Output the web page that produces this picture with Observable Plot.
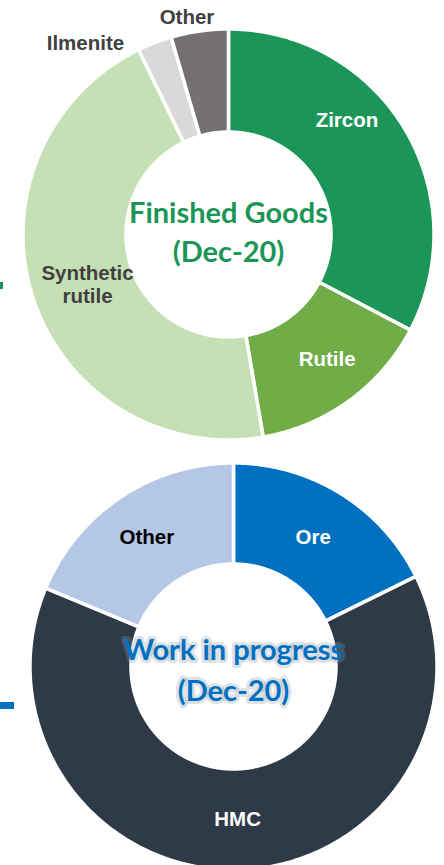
<!DOCTYPE html>
<html><head><meta charset="utf-8">
<script src="https://cdn.jsdelivr.net/npm/d3@7"></script>
<script src="https://cdn.jsdelivr.net/npm/@observablehq/plot@0.6"></script>
<style>
html,body{margin:0;padding:0;background:#fff;overflow:hidden;}
#wrap{position:relative;width:444px;height:865px;overflow:hidden;}
#top{position:absolute;left:0;top:0;}
#bottom{position:absolute;left:0;top:440px;}
.deco{position:absolute;left:0;}
</style></head><body>
<div id="wrap">
<div id="top"></div>
<div id="bottom"></div>
<div class="deco" style="top:282px;width:3px;height:7px;background:#1b9657"></div>
<div class="deco" style="top:702px;width:14px;height:7px;background:#0070c0"></div>
</div>
<script>
// ---- data ----
const fgCategories = ["Zircon", "Rutile", "Synthetic rutile", "Ilmenite", "Other"];
const fgLabels = ["Zircon", "Rutile", "Synthetic\nrutile", "Ilmenite", "Other"];
const fgValues = [32.7, 14.6, 45.5, 2.7, 4.5];
const fgColors = ["#1b9657", "#70ad47", "#c5e0b4", "#d9d9d9", "#767171"];
const fgTitle = "Finished Goods\n(Dec-20)";

const wipCategories = ["Ore", "HMC", "Other"];
const wipLabels = ["Ore", "HMC", "Other"];
const wipValues = [17.7, 63.6, 18.7];
const wipColors = ["#0070c0", "#2e3a47", "#b4c7e7"];
const wipTitle = "Work in progress\n(Dec-20)";

// ---- layout / style ----
const fgLayout = {
  el: "#top", width: 444, height: 440, cx: 228, cy: 234, R: 205.5, r: 102.5,
  labelColors: ["#ffffff", "#ffffff", "#404040", "#404040", "#404040"],
  labelR: [153, 153, 153, 230, 230],
  nudge: [[-12.5, -35.5], [8.7, 0.6], [4.7, 3], [-60.4, 23], [-9.1, 10.1]],
  titleColor: "#1b9657", titleShift: [0, -4.5], titleLineHeight: 1.34, titleSize: 29, titleGlow: false
};
const wipLayout = {
  el: "#bottom", width: 444, height: 430, cx: 233, cy: 226, R: 203.5, r: 102.5,
  labelColors: ["#ffffff", "#ffffff", "#000000"],
  labelR: [153, 153, 153],
  nudge: [[-1, 0.4], [-0.7, -0.5], [-1.8, -2.2]],
  titleColor: "#0070c0", titleShift: [0, 1], titleLineHeight: 1.41, titleSize: 29, titleGlow: true
};

function donut(categories, labels, values, colors, L) {
  const total = d3.sum(values);
  let acc = 0;
  const slices = values.map((v, i) => {
    const a0 = acc / total * 2 * Math.PI; acc += v;
    const a1 = acc / total * 2 * Math.PI;
    return {i, a0, a1, name: categories[i], label: labels[i], color: colors[i]};
  });
  const pts = [];
  for (const s of slices) {
    const n = Math.max(2, Math.ceil((s.a1 - s.a0) / (Math.PI / 360)));
    const ring = [];
    for (let k = 0; k <= n; k++) { const a = s.a0 + (s.a1 - s.a0) * k / n; ring.push([L.R * Math.sin(a), L.R * Math.cos(a)]); }
    for (let k = n; k >= 0; k--) { const a = s.a0 + (s.a1 - s.a0) * k / n; ring.push([L.r * Math.sin(a), L.r * Math.cos(a)]); }
    ring.push(ring[0]);
    for (const [x, y] of ring) pts.push({x, y, name: s.name, color: s.color});
  }
  const lab = slices.map(s => {
    const m = (s.a0 + s.a1) / 2, lr = L.labelR[s.i], [nx, ny] = L.nudge[s.i];
    return {x: lr * Math.sin(m) + nx, y: lr * Math.cos(m) - ny, text: s.label, fill: L.labelColors[s.i]};
  });
  const titleMarks = [];
  const titleOpts = {
    x: () => L.titleShift[0], y: () => -L.titleShift[1], text: d => d,
    fill: L.titleColor, fontSize: L.titleSize, fontWeight: "bold", fontFamily: "Lato, 'Open Sans', sans-serif",
    lineHeight: L.titleLineHeight
  };
  if (L.titleGlow) titleMarks.push(Plot.text([L.title], {...titleOpts, fill: "none", stroke: "#8e99a6", strokeWidth: 6, strokeOpacity: 0.3}));
  titleMarks.push(Plot.text([L.title], titleOpts));
  const chart = Plot.plot({
    width: L.width, height: L.height, margin: 0,
    x: {domain: [-L.cx, L.width - L.cx], axis: null},
    y: {domain: [L.cy - L.height, L.cy], axis: null},
    color: {type: "identity"},
    style: {background: "transparent", overflow: "visible"},
    marks: [
      Plot.line(pts, {x: "x", y: "y", z: "name", fill: "color", stroke: "#ffffff", strokeWidth: 3.5, curve: "linear"}),
      Plot.text(lab, {x: "x", y: "y", text: "text", fill: "fill", fontSize: 20.5, fontWeight: "bold",
        fontFamily: "'Liberation Sans', Arial, sans-serif", lineHeight: 1.1}),
      ...titleMarks
    ]
  });
  document.querySelector(L.el).append(chart);
}
fgLayout.title = fgTitle;
wipLayout.title = wipTitle;
donut(fgCategories, fgLabels, fgValues, fgColors, fgLayout);
donut(wipCategories, wipLabels, wipValues, wipColors, wipLayout);
</script>
</body></html>
